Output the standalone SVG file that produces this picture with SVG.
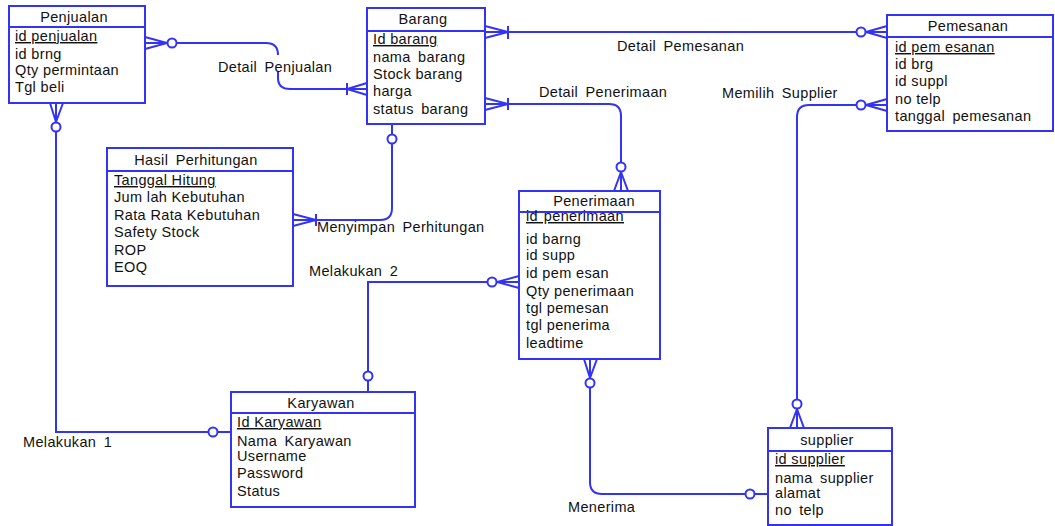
<svg xmlns="http://www.w3.org/2000/svg" width="1055" height="526" viewBox="0 0 1055 526">
<style>
.box{fill:#fff;stroke:#3333f5;stroke-width:2}
.div{stroke:#3333f5;stroke-width:2}
.ln{fill:none;stroke:#3333f5;stroke-width:2}
.cir{fill:#fff;stroke:#3333f5;stroke-width:2}
text{font-family:"Liberation Sans",Arial,sans-serif;font-size:14.5px;letter-spacing:0.35px;fill:#111}
.t{text-anchor:middle}
.u{text-decoration:underline}
.w{word-spacing:3px}
</style>
<rect width="1055" height="526" fill="#fff"/>
<g id="connectors">
  <!-- Detail Penjualan -->
  <path class="ln" d="M145,37 L167,43 L145,49 M145,43 H167"/>
  <path class="ln" d="M176,43 H266 Q278,43 278,55"/>
  <path class="ln" d="M278,72 V78 Q278,89 290,89 H367"/>
  <path class="ln" d="M367,83 L347,89 L367,95 M347,83 V95"/>
  <circle class="cir" cx="172" cy="43" r="4.5"/>
  <!-- Detail Pemesanan -->
  <path class="ln" d="M485,26 L508,32 L485,38 M508,26 V39 M485,32 H856"/>
  <path class="ln" d="M866,32 L887,26 M866,32 L887,38 M866,32 H887"/>
  <circle class="cir" cx="861" cy="32" r="4.5"/>
  <!-- Detail Penerimaan -->
  <path class="ln" d="M485,98 L508,104 L485,110 M508,98 V110 M485,104 H609 Q621,104 621,116 V162"/>
  <path class="ln" d="M621,172 L614,191 M621,172 L628,191 M621,172 V191"/>
  <circle class="cir" cx="621" cy="167" r="4.5"/>
  <!-- Memilih Supplier -->
  <path class="ln" d="M866,105 L887,99 M866,105 L887,111 M866,105 H887"/>
  <path class="ln" d="M856,105 H809 Q797,105 797,117 V399"/>
  <circle class="cir" cx="861" cy="105" r="4.5"/>
  <path class="ln" d="M797,409 L790,428 M797,409 L804,428 M797,409 V428"/>
  <circle class="cir" cx="797" cy="404" r="4.5"/>
  <!-- Menyimpan Perhitungan -->
  <path class="ln" d="M392,124 V134 M392,144 V208 Q392,220 380,220 H293"/>
  <path class="ln" d="M293,214 L316,220 L293,226 M316,214 V226"/>
  <circle class="cir" cx="392" cy="139" r="4.5"/>
  <!-- Melakukan 2 -->
  <path class="ln" d="M519,276 L497,282 L519,288 M497,282 H519"/>
  <path class="ln" d="M487,282 H368 V371 M368,381 V392"/>
  <circle class="cir" cx="492" cy="282" r="4.5"/>
  <circle class="cir" cx="368" cy="376" r="4.5"/>
  <!-- Melakukan 1 -->
  <path class="ln" d="M50,103 L56,122 L63,103 M56,103 V122"/>
  <path class="ln" d="M56,132 V432 H208 M218,432 H231"/>
  <circle class="cir" cx="56" cy="127" r="4.5"/>
  <circle class="cir" cx="213" cy="432" r="4.5"/>
  <!-- Menerima -->
  <path class="ln" d="M584,359 L590,378 L597,359 M590,359 V378"/>
  <path class="ln" d="M590,388 V482 Q590,494 602,494 H745 M755,494 H768"/>
  <circle class="cir" cx="590" cy="383" r="4.5"/>
  <circle class="cir" cx="750" cy="494" r="4.5"/>
</g>
<g id="labels">
  <text x="218" y="72" class="w">Detail Penjualan</text>
  <text x="617" y="51" class="w">Detail Pemesanan</text>
  <text x="539" y="97" class="w">Detail Penerimaan</text>
  <text x="722" y="98" class="w">Memilih Supplier</text>
  <text x="317" y="232" class="w">Menyimpan Perhitungan</text>
  <text x="309" y="276" class="w">Melakukan 2</text>
  <text x="23" y="447" class="w">Melakukan 1</text>
  <text x="568" y="512">Menerima</text>
</g>
<g id="penjualan">
  <rect class="box" x="9" y="6" width="136" height="97"/>
  <line class="div" x1="9" y1="27" x2="145" y2="27"/>
  <text class="t" x="74" y="22">Penjualan</text>
  <text class="u" x="15" y="41">id penjualan</text>
  <text x="15" y="59">id brng</text>
  <text x="15" y="75">Qty permintaan</text>
  <text x="15" y="92">Tgl beli</text>
</g>
<g id="barang">
  <rect class="box" x="367" y="8" width="118" height="116"/>
  <line class="div" x1="367" y1="31" x2="485" y2="31"/>
  <text class="t" x="423" y="24">Barang</text>
  <text class="u" x="373" y="44">Id barang</text>
  <text class="w" x="373" y="62">nama barang</text>
  <text x="373" y="79">Stock barang</text>
  <text x="373" y="96">harga</text>
  <text class="w" x="373" y="114">status barang</text>
</g>
<g id="pemesanan">
  <rect class="box" x="887" y="15" width="166" height="116"/>
  <line class="div" x1="887" y1="37" x2="1053" y2="37"/>
  <text class="t" x="968" y="31">Pemesanan</text>
  <text class="u" x="895" y="52">id pem esanan</text>
  <text x="895" y="69">id brg</text>
  <text x="895" y="86">id suppl</text>
  <text x="895" y="104">no telp</text>
  <text class="w" x="895" y="121">tanggal pemesanan</text>
</g>
<g id="hasil-perhitungan">
  <rect class="box" x="107" y="148" width="186" height="138"/>
  <line class="div" x1="107" y1="171" x2="293" y2="171"/>
  <text class="t w" x="196" y="165">Hasil Perhitungan</text>
  <text class="u" x="114" y="185">Tanggal Hitung</text>
  <text x="114" y="202">Jum lah Kebutuhan</text>
  <text x="114" y="220">Rata Rata Kebutuhan</text>
  <text x="114" y="237">Safety Stock</text>
  <text x="114" y="255">ROP</text>
  <text x="114" y="272">EOQ</text>
</g>
<g id="penerimaan">
  <rect class="box" x="519" y="191" width="141" height="168"/>
  <line class="div" x1="519" y1="212" x2="660" y2="212"/>
  <text class="t" x="594" y="206">Penerimaan</text>
  <text class="u" x="526" y="221" style="word-spacing:1.5px">id penerimaan</text>
  <text x="526" y="244">id barng</text>
  <text x="526" y="260">id supp</text>
  <text x="526" y="278">id pem esan</text>
  <text x="526" y="296">Qty penerimaan</text>
  <text x="526" y="313">tgl pemesan</text>
  <text x="526" y="330">tgl penerima</text>
  <text x="526" y="348">leadtime</text>
</g>
<g id="karyawan">
  <rect class="box" x="231" y="392" width="184" height="115"/>
  <line class="div" x1="231" y1="413" x2="415" y2="413"/>
  <text class="t" x="321" y="408">Karyawan</text>
  <text class="u" x="237" y="427">Id Karyawan</text>
  <text class="w" x="237" y="446">Nama Karyawan</text>
  <text x="237" y="461">Username</text>
  <text x="237" y="478">Password</text>
  <text x="237" y="496">Status</text>
</g>
<g id="supplier">
  <rect class="box" x="768" y="428" width="124" height="97"/>
  <line class="div" x1="768" y1="451" x2="892" y2="451"/>
  <text class="t" x="827" y="445">supplier</text>
  <text class="u" x="775" y="464">id supplier</text>
  <text class="w" x="775" y="483">nama supplier</text>
  <text x="775" y="498">alamat</text>
  <text class="w" x="775" y="515">no telp</text>
</g>
</svg>
